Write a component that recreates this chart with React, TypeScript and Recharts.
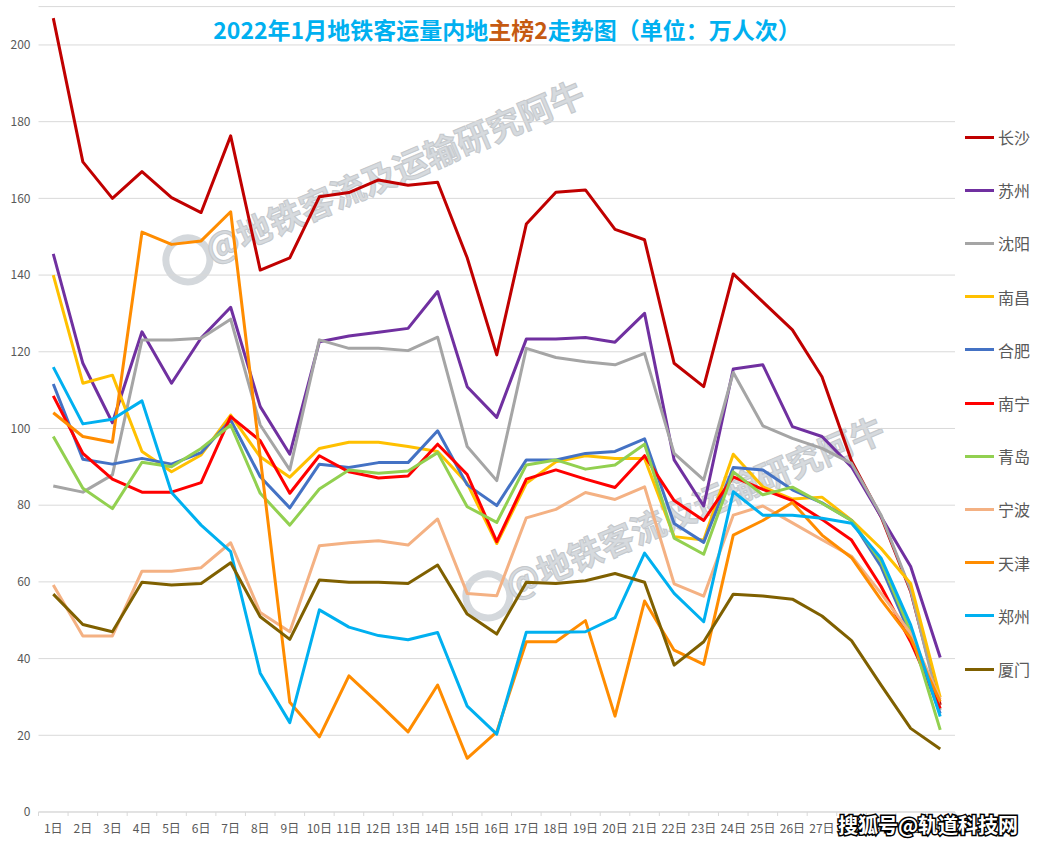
import React from "react";
import { LineChart, Line, XAxis, YAxis, CartesianGrid } from "recharts";

const days = [1,2,3,4,5,6,7,8,9,10,11,12,13,14,15,16,17,18,19,20,21,22,23,24,25,26,27,28,29,30,31];
const yTicks = [0,20,40,60,80,100,120,140,160,180,200];

const changsha = [207,169.5,160,167,160.2,156.3,176.3,141.3,144.5,160.4,161.5,164.8,163.4,164.2,144.5,119.2,153.3,161.6,162.2,151.9,149.2,117,110.9,140.3,133,125.7,113.5,91.5,77,57.5,27.9];
const suzhou = [145.5,117,101.5,125.2,111.8,123.6,131.6,105.7,93.3,122.6,124.1,125.1,126.1,135.7,110.9,102.9,123.3,123.3,123.7,122.5,130,91.8,79.8,115.5,116.6,100.5,97.9,90,77,64,40.3];
const shenyang = [85,83.4,87.9,123.1,123.1,123.5,128.5,100.9,89.2,123.1,120.9,120.9,120.3,123.8,95.3,86.4,120.9,118.5,117.4,116.6,119.6,93.5,86.6,114.6,100.7,97.4,94.8,90.9,77.4,57.9,26.6];
const nanchang = [140,111.8,113.9,94,88.7,93.1,103.5,92.6,87.3,94.8,96.4,96.4,95.3,94,85.7,70,85.7,91.3,92.9,92.2,92.2,71.8,70.9,93.3,84.8,81.6,82.1,76.1,68.7,59.6,29.9];
const hefei = [111.6,92,90.7,92.2,90.7,93.7,102.2,87.4,79.3,90.7,89.8,91.1,91.1,99.4,85.3,79.9,91.8,91.8,93.5,94,97.3,75.2,70.3,89.8,89.2,84,80.6,76,64,46,25.7];
const nanning = [108.5,93.5,86.8,83.4,83.4,85.9,103.1,96.8,83.1,92.9,88.7,87.1,87.6,95.9,88,70.5,86.8,89.2,86.8,84.6,92.9,81.2,76,87.4,84.1,81.2,76.3,70.9,58.8,44.4,27];
const qingdao = [97.9,84.4,79.1,91.2,90,94.8,100.9,83.1,74.8,84.2,89.2,88.3,88.9,93.7,79.6,75.5,90.5,91.8,89.4,90.5,95.9,71.4,67.2,88.7,82.7,84.7,80.5,76,65.3,47,21.4];
const ningbo = [59.2,45.9,45.9,62.8,62.8,63.7,70.2,52,47,69.4,70.2,70.7,69.6,76.4,57,56.4,76.7,78.9,83.3,81.5,84.8,59.5,56.3,77.4,79.8,75.4,71,66.7,57,46.6,29.4];
const tianjin = [104.1,97.9,96.4,151.2,148,148.9,156.5,92.5,28.6,19.6,35.5,28.3,20.9,33.1,14,20.9,44.4,44.4,49.9,25,55,42.2,38.5,72.2,76,80.7,72.2,66.3,55.3,45.3,28.8];
const zhengzhou = [116,101.2,102.4,107.2,83.3,74.8,67.9,36.2,23.3,52.7,48.2,46,44.9,46.8,27.6,20.3,46.9,46.9,47,50.7,67.5,57,49.6,83.5,77.4,77.4,76.6,75.3,66.2,48.8,24.9];
const xiamen = [56.8,48.9,47,59.9,59.2,59.6,65,50.9,45,60.5,59.9,59.9,59.6,64.4,51.6,46.4,59.9,59.6,60.3,62.2,59.9,38.3,44.4,56.8,56.3,55.5,51.1,44.7,33.1,21.8,16.4];

const SERIES = [
  { name: "长沙", values: changsha, color: "#C00000" },
  { name: "苏州", values: suzhou, color: "#7030A0" },
  { name: "沈阳", values: shenyang, color: "#A5A5A5" },
  { name: "南昌", values: nanchang, color: "#FFC000" },
  { name: "合肥", values: hefei, color: "#4472C4" },
  { name: "南宁", values: nanning, color: "#FF0000" },
  { name: "青岛", values: qingdao, color: "#92D050" },
  { name: "宁波", values: ningbo, color: "#F4B183" },
  { name: "天津", values: tianjin, color: "#FF8C00" },
  { name: "郑州", values: zhengzhou, color: "#00B0F0" },
  { name: "厦门", values: xiamen, color: "#7F6000" },
];

const data = days.map((d, i) => {
  const row: Record<string, number> = { day: d };
  SERIES.forEach((s) => { row[s.name] = s.values[i]; });
  return row;
});

const W = 1042;
const H = 846;
const M = { top: 6.6, right: 87, bottom: 4, left: 0 };
const Y_W = 38.5;
const X_H = 30;
const PLOT_W = W - M.left - M.right - Y_W;
const BAND = PLOT_W / days.length;
const FONT = "'Noto Sans CJK SC', 'Noto Sans', sans-serif";

const XTick = (props: any) => {
  const { x, y, payload, index } = props;
  const half = BAND / 2;
  return (
    <g>
      <line x1={x - half} x2={x - half} y1={y} y2={y + 4} stroke="#D9D9D9" strokeWidth={1} />
      {index === days.length - 1 && (
        <line x1={x + half} x2={x + half} y1={y} y2={y + 4} stroke="#D9D9D9" strokeWidth={1} />
      )}
      <text x={x} y={y + 21} textAnchor="middle" fill="#595959" fontSize={12} fontFamily={FONT}>
        {payload.value}日
      </text>
    </g>
  );
};

const WATERMARK = "@地铁客流及运输研究阿牛";

export default function App() {
  return (
    <div style={{ position: "absolute", left: 0, top: 0, width: W, height: H, background: "#fff", overflow: "hidden" }}>
      <svg width={W} height={H} style={{ position: "absolute", left: 0, top: 0 }}>
        {[{ cx: 395, cy: 172 }, { cx: 695, cy: 508 }].map((p, i) => (
          <g key={i} transform={`translate(${p.cx},${p.cy}) rotate(-23)`}>
            <circle cx={-225} cy={0} r={22} fill="none" stroke="#D4D8DC" strokeWidth={7} />
            <text x={0} y={12} textAnchor="middle" fontSize={34} fontWeight="bold" fontFamily={FONT} fill="#D6DADE" stroke="#C4C8CC" strokeWidth={1}>
              {WATERMARK}
            </text>
          </g>
        ))}
      </svg>
      <div style={{ position: "absolute", left: 0, top: 0 }}>
        <LineChart width={W} height={H} data={data} margin={M}>
          <CartesianGrid vertical={false} stroke="#D9D9D9" />
          <XAxis
            dataKey="day"
            type="number"
            domain={[0.5, 31.5]}
            ticks={days}
            interval={0}
            height={X_H}
            tickSize={0}
            tickMargin={0}
            tickLine={false}
            axisLine={{ stroke: "#D9D9D9" }}
            tick={<XTick />}
          />
          <YAxis
            type="number"
            domain={[0, 210]}
            ticks={yTicks}
            interval={0}
            width={Y_W}
            tickSize={0}
            tickMargin={8}
            axisLine={false}
            tickLine={false}
            tick={{ fill: "#595959", fontSize: 12, fontFamily: FONT }}
          />
          {SERIES.map((s) => (
            <Line
              key={s.name}
              type="linear"
              dataKey={s.name}
              stroke={s.color}
              strokeWidth={3}
              strokeLinejoin="round"
              dot={false}
              activeDot={false}
              isAnimationActive={false}
            />
          ))}
        </LineChart>
      </div>
      <div
        style={{
          position: "absolute",
          left: 507,
          top: 13,
          transform: "translateX(-50%)",
          whiteSpace: "nowrap",
          fontFamily: FONT,
          fontSize: 23,
          fontWeight: "bold",
          lineHeight: "32px",
          color: "#00B0F0",
        }}
      >
        2022年1月地铁客运量内地<span style={{ color: "#C55A11" }}>主榜2</span>走势图（单位：万人次）
      </div>
      <div style={{ position: "absolute", left: 965, top: 0 }}>
        {SERIES.map((s, i) => (
          <div
            key={s.name}
            style={{
              position: "absolute",
              left: 0,
              top: 137 + i * 53.2 - 12,
              height: 24,
              display: "flex",
              alignItems: "center",
              whiteSpace: "nowrap",
            }}
          >
            <div style={{ width: 29, height: 3, background: s.color }} />
            <span style={{ marginLeft: 4, fontFamily: FONT, fontSize: 16, color: "#595959" }}>{s.name}</span>
          </div>
        ))}
      </div>
      <svg width={W} height={H} style={{ position: "absolute", left: 0, top: 0, pointerEvents: "none" }}>
        <text
          x={928}
          y={833}
          textAnchor="middle"
          fontSize={20}
          fontWeight="bold"
          fontFamily={FONT}
          fill="#FFFFFF"
          stroke="#000000"
          strokeWidth={3}
          paintOrder="stroke"
        >
          搜狐号@轨道科技网
        </text>
      </svg>
    </div>
  );
}
